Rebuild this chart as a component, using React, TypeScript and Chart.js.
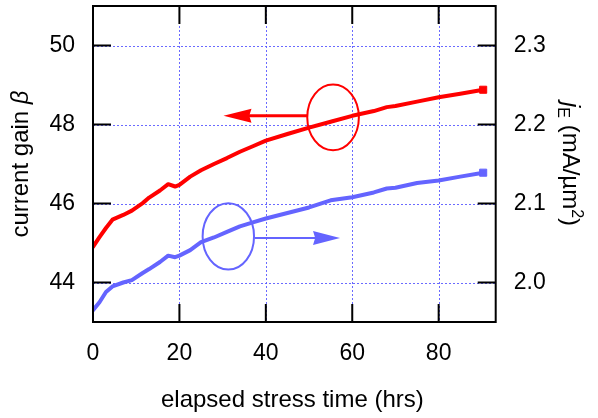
import React, { useEffect, useRef } from "react";
import { Chart, registerables } from "chart.js";

Chart.register(...registerables);

// ---- data ----
const timeHrs = [0, 1.5, 3, 4.5, 7, 9, 11.5, 13, 15.5, 17.4, 19, 20, 22.5, 25, 28, 31, 34, 37, 40, 45, 50, 55, 60, 65, 68, 70, 75, 80, 85, 90.3];
const betaValues = [44.9, 45.15, 45.38, 45.59, 45.71, 45.82, 46.01, 46.15, 46.33, 46.49, 46.43, 46.47, 46.68, 46.84, 47.0, 47.15, 47.31, 47.45, 47.59, 47.76, 47.92, 48.07, 48.22, 48.34, 48.44, 48.47, 48.58, 48.69, 48.78, 48.88];
const jeValues = [1.965, 1.975, 1.988, 1.995, 2.0, 2.003, 2.012, 2.017, 2.026, 2.034, 2.032, 2.034, 2.041, 2.051, 2.057, 2.064, 2.071, 2.076, 2.081, 2.088, 2.095, 2.104, 2.108, 2.114, 2.119, 2.12, 2.126, 2.129, 2.134, 2.139];

const xTicks = [0, 20, 40, 60, 80];
const betaTicks = [44, 46, 48, 50];
const jeTicks = [2.0, 2.1, 2.2, 2.3];

const xTitle = "elapsed stress time (hrs)";
const leftTitle = "current gain ";
const leftTitleSymbol = "\u03B2";
const rightTitleSymbol = "j";
const rightTitleSub = "E";
const rightTitleUnit = " (mA/\u00B5m";
const rightTitleSup = "2";
const rightTitleEnd = ")";

// annotation marks (data units)
const betaEllipse = { t: 55.56, v: 48.18, rt: 5.97, rv: 0.83 };
const betaArrow = { from: 49.65, to: 30.2, v: 48.22 };
const jeEllipse = { t: 31.32, v: 2.0583, rt: 5.95, rv: 0.042 };
const jeArrow = { from: 37.4, to: 57.17, v: 2.0563 };

const FONT = '"Liberation Sans", Arial, Helvetica, sans-serif';
const RED = "#ff0000";
const BLUE = "#6464ff";
const GRID = "rgba(90,90,255,0.9)";

function drawArrow(ctx: CanvasRenderingContext2D, x0: number, x1: number, y: number, color: string, lw: number, headLen: number, headHalf: number) {
  const dir = Math.sign(x1 - x0);
  ctx.strokeStyle = color;
  ctx.lineWidth = lw;
  ctx.beginPath();
  ctx.moveTo(x0, y);
  ctx.lineTo(x1 - dir * headLen * 0.8, y);
  ctx.stroke();
  ctx.fillStyle = color;
  ctx.beginPath();
  ctx.moveTo(x1, y);
  ctx.lineTo(x1 - dir * headLen, y - headHalf);
  ctx.lineTo(x1 - dir * headLen * 0.92, y);
  ctx.lineTo(x1 - dir * headLen, y + headHalf);
  ctx.closePath();
  ctx.fill();
}

const decorPlugin = {
  id: "decor",
  beforeDatasetsDraw(chart: any) {
    const { ctx, chartArea: a, scales } = chart;
    const sx = scales.x;
    const sy = scales.y;
    ctx.save();
    ctx.strokeStyle = GRID;
    ctx.lineWidth = 1;
    ctx.setLineDash([2, 2]);
    for (const t of xTicks) {
      if (t === 0) continue;
      const px = Math.round(sx.getPixelForValue(t)) + 0.5;
      ctx.beginPath();
      ctx.moveTo(px, a.top);
      ctx.lineTo(px, a.bottom);
      ctx.stroke();
    }
    for (const v of betaTicks) {
      const py = Math.round(sy.getPixelForValue(v)) + 0.5;
      ctx.beginPath();
      ctx.moveTo(a.left, py);
      ctx.lineTo(a.right, py);
      ctx.stroke();
    }
    ctx.restore();
  },
  afterDatasetsDraw(chart: any) {
    const { ctx, scales } = chart;
    const sx = scales.x;
    const sy = scales.y;
    const sy2 = scales.y2;
    ctx.save();
    const rcx = sx.getPixelForValue(betaEllipse.t);
    const rcy = sy.getPixelForValue(betaEllipse.v);
    const rrx = sx.getPixelForValue(betaEllipse.t + betaEllipse.rt) - rcx;
    const rry = sy.getPixelForValue(betaEllipse.v - betaEllipse.rv) - rcy;
    ctx.strokeStyle = RED;
    ctx.lineWidth = 2;
    ctx.beginPath();
    ctx.ellipse(rcx, rcy, rrx, rry, 0, 0, Math.PI * 2);
    ctx.stroke();
    drawArrow(ctx, sx.getPixelForValue(betaArrow.from), sx.getPixelForValue(betaArrow.to), sy.getPixelForValue(betaArrow.v), RED, 3, 28, 7);
    const bcx = sx.getPixelForValue(jeEllipse.t);
    const bcy = sy2.getPixelForValue(jeEllipse.v);
    const brx = sx.getPixelForValue(jeEllipse.t + jeEllipse.rt) - bcx;
    const bry = sy2.getPixelForValue(jeEllipse.v - jeEllipse.rv) - bcy;
    ctx.strokeStyle = BLUE;
    ctx.lineWidth = 2;
    ctx.beginPath();
    ctx.ellipse(bcx, bcy, brx, bry, 0, 0, Math.PI * 2);
    ctx.stroke();
    drawArrow(ctx, sx.getPixelForValue(jeArrow.from), sx.getPixelForValue(jeArrow.to), sy2.getPixelForValue(jeArrow.v), BLUE, 2, 27, 7);
    ctx.restore();
  },
  afterDraw(chart: any) {
    const { ctx, chartArea: a, scales } = chart;
    const sx = scales.x;
    const sy = scales.y;
    ctx.save();
    ctx.strokeStyle = "#000";
    ctx.lineWidth = 2;
    ctx.setLineDash([]);
    ctx.strokeRect(a.left, a.top, a.right - a.left, a.bottom - a.top);
    const TL = 18;
    ctx.beginPath();
    for (const t of xTicks) {
      const px = sx.getPixelForValue(t);
      ctx.moveTo(px, a.bottom);
      ctx.lineTo(px, a.bottom - TL);
      ctx.moveTo(px, a.top);
      ctx.lineTo(px, a.top + TL);
    }
    for (const v of betaTicks) {
      const py = sy.getPixelForValue(v);
      ctx.moveTo(a.left, py);
      ctx.lineTo(a.left + TL, py);
    }
    const sy2 = scales.y2;
    for (const v of jeTicks) {
      const py = sy2.getPixelForValue(v);
      ctx.moveTo(a.right, py);
      ctx.lineTo(a.right - TL, py);
    }
    ctx.stroke();

    ctx.fillStyle = "#000";
    const size = 24;
    const normal = `${size}px ${FONT}`;
    const italic = `italic ${size}px ${FONT}`;
    ctx.font = normal;
    ctx.textAlign = "center";
    ctx.textBaseline = "alphabetic";
    ctx.fillText(xTitle, (a.left + a.right) / 2 - 2, 407);

    ctx.textAlign = "left";
    const cy = (a.top + a.bottom) / 2;
    ctx.save();
    ctx.translate(28, cy);
    ctx.rotate(-Math.PI / 2);
    ctx.font = normal;
    const w1 = ctx.measureText(leftTitle).width;
    ctx.font = italic;
    const w2 = ctx.measureText(leftTitleSymbol).width;
    const x0 = -(w1 + w2) / 2;
    ctx.font = normal;
    ctx.fillText(leftTitle, x0, 0);
    ctx.font = italic;
    ctx.fillText(leftTitleSymbol, x0 + w1, 0);
    ctx.restore();

    ctx.save();
    ctx.translate(563, cy);
    ctx.rotate(Math.PI / 2);
    const small = `${Math.round(size * 0.68)}px ${FONT}`;
    const parts = [
      { text: rightTitleSymbol, font: italic, dy: 0 },
      { text: rightTitleSub, font: small, dy: 5 },
      { text: rightTitleUnit, font: normal, dy: 0 },
      { text: rightTitleSup, font: small, dy: -9 },
      { text: rightTitleEnd, font: normal, dy: 0 },
    ];
    let total = 0;
    const widths = parts.map((p) => {
      ctx.font = p.font;
      const w = ctx.measureText(p.text).width;
      total += w;
      return w;
    });
    let cx = -total / 2;
    parts.forEach((p, i) => {
      ctx.font = p.font;
      ctx.fillText(p.text, cx, p.dy);
      cx += widths[i];
    });
    ctx.restore();

    ctx.restore();
  },
};

function zeroPad(s: any) {
  s.paddingTop = 0;
  s.paddingBottom = 0;
  s.paddingLeft = 0;
  s.paddingRight = 0;
}

export default function App() {
  const ref = useRef<HTMLCanvasElement>(null);
  useEffect(() => {
    document.body.style.margin = "0";
    const canvas = ref.current!;
    const last = timeHrs.length - 1;
    const chart = new Chart(canvas, {
      type: "line",
      data: {
        datasets: [
          {
            label: "current gain",
            data: timeHrs.map((t, i) => ({ x: t, y: betaValues[i] })),
            yAxisID: "y",
            borderColor: RED,
            backgroundColor: RED,
            borderWidth: 4,
            borderJoinStyle: "round",
            borderCapStyle: "round",
            pointStyle: "rect",
            pointRadius: (c: any) => (c.dataIndex === last ? 5 : 0),
            pointBorderWidth: 1,
            tension: 0,
          },
          {
            label: "jE",
            data: timeHrs.map((t, i) => ({ x: t, y: jeValues[i] })),
            yAxisID: "y2",
            borderColor: BLUE,
            backgroundColor: BLUE,
            borderWidth: 4,
            borderJoinStyle: "round",
            borderCapStyle: "round",
            pointStyle: "rect",
            pointRadius: (c: any) => (c.dataIndex === last ? 5 : 0),
            pointBorderWidth: 1,
            tension: 0,
          },
        ],
      },
      options: {
        responsive: false,
        animation: false,
        events: [],
        layout: { padding: { top: 5, left: 0, right: 0, bottom: 0 } },
        plugins: { legend: { display: false }, tooltip: { enabled: false } },
        scales: {
          x: {
            type: "linear",
            position: "bottom",
            min: 0,
            max: 93.2,
            grid: { display: false },
            border: { display: false },
            ticks: { font: { size: 23, family: FONT }, color: "#000", padding: 10, maxRotation: 0 },
            afterBuildTicks: (s: any) => {
              s.ticks = xTicks.map((v) => ({ value: v }));
            },
            afterFit: (s: any) => {
              s.height = 96;
              zeroPad(s);
            },
          },
          y: {
            type: "linear",
            position: "left",
            min: 43,
            max: 51,
            grid: { display: false },
            border: { display: false },
            ticks: { font: { size: 23, family: FONT }, color: "#000", padding: 10 },
            afterBuildTicks: (s: any) => {
              s.ticks = betaTicks.map((v) => ({ value: v }));
            },
            afterFit: (s: any) => {
              s.width = 93;
              zeroPad(s);
            },
          },
          y2: {
            type: "linear",
            position: "right",
            min: 1.95,
            max: 2.35,
            grid: { display: false },
            border: { display: false },
            ticks: {
              font: { size: 23, family: FONT },
              color: "#000",
              padding: 10,
              callback: (v: any) => Number(v).toFixed(1),
            },
            afterBuildTicks: (s: any) => {
              s.ticks = jeTicks.map((v) => ({ value: v }));
            },
            afterFit: (s: any) => {
              s.width = 102.3;
              zeroPad(s);
            },
          },
        },
      } as any,
      plugins: [decorPlugin],
    });
    return () => chart.destroy();
  }, []);
  return (
    <div style={{ width: 598, height: 418 }}>
      <canvas ref={ref} width={598} height={418} style={{ display: "block" }} />
    </div>
  );
}
